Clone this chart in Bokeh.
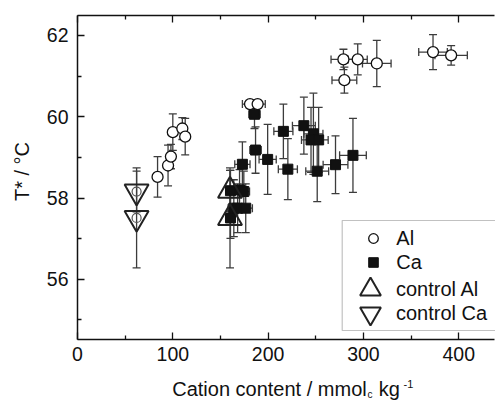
import math
from bokeh.plotting import figure
from bokeh.models import (ColumnDataSource, Whisker, TeeHead, FixedTicker, LinearAxis,
                          Range1d, Label, Legend, LegendItem, BoxAnnotation,
                          CustomJSTickFormatter)
from bokeh.embed import file_html
from bokeh.resources import INLINE

# ---------------- data ----------------
al_x = [84, 95, 98, 100, 110, 113, 181, 189, 279, 294, 314, 280, 373, 392]
al_y = [58.52, 58.80, 59.02, 59.62, 59.71, 59.51, 60.31, 60.31, 61.41, 61.41, 61.31, 60.90, 61.59, 61.51]
al_xerr = [0, 0, 0, 0, 0, 0, 8, 8, 13, 10, 15, 13, 15, 17]
al_yerr = [0.50, 0.50, 0.30, 0.45, 0.27, 0.45, 0.05, 0.05, 0.25, 0.38, 0.57, 0.32, 0.43, 0.24]

ca_x = [160.5, 160.5, 164, 168, 170, 174.5, 176.5, 173, 186.8, 185.7, 199.5, 216, 220.7,
        237.5, 247.5, 245, 253, 251.5, 270.7, 289]
ca_y = [57.51, 58.18, 57.75, 57.75, 58.20, 58.16, 57.75, 58.83, 59.18, 60.06, 58.95, 59.64,
        58.71, 59.78, 59.58, 59.43, 59.43, 58.66, 58.82, 59.05]
ca_xerr = [5, 5, 6, 6, 6, 6, 7, 8, 6, 6, 9, 10, 10, 12, 10, 10, 10, 12, 13, 14]
ca_yerr = [0.50, 0.50, 0.70, 0.60, 0.50, 0.50, 0.60, 0.55, 0.57, 0.35, 0.86, 0.67, 0.75,
           0.70, 1.00, 0.80, 0.80, 0.75, 0.71, 0.91]

ctrl_al_x = [160, 160]
ctrl_al_y = [58.18, 57.51]
ctrl_al_yerr = [0.50, 1.23]

ctrl_ca_x = [62, 62]
ctrl_ca_y = [58.16, 57.51]
ctrl_ca_yerr = [0.50, 1.23]

x_ticks = [0, 100, 200, 300, 400]
x_minor = [50, 150, 250, 350]
y_ticks = [56, 58, 60, 62]
y_minor = [55, 57, 59, 61]

X_LO, X_HI = 0, 437.5      # visible axis extent
Y_LO, Y_HI = 54.52, 62.49

FONT = "Liberation Sans"
ERR = "#3c3c3c"
INK = "#111111"

# ---------------- layout (canvas = frame, axes drawn at fixed locations) ----------------
W, H = 495, 400
FL, FR, FT, FB = 77, 494, 15, 339   # pixel box of the drawn axes
sx = (X_HI - X_LO) / (FR - FL)
sy = (Y_HI - Y_LO) / (FB - FT)
x_range = Range1d(X_LO - FL * sx, X_LO + (W - FL) * sx)
y_range = Range1d(Y_LO - (H - FB) * sy, Y_HI + FT * sy)

p = figure(width=W, height=H, x_range=x_range, y_range=y_range,
           output_backend="svg", toolbar_location=None,
           min_border_left=0, min_border_right=0, min_border_top=0, min_border_bottom=0)
p.outline_line_color = None
p.xgrid.visible = False
p.ygrid.visible = False
p.background_fill_color = "white"
p.border_fill_color = "white"


def style_axis(ax):
    ax.axis_line_color = INK
    ax.axis_line_width = 1.5
    ax.major_tick_line_color = INK
    ax.major_tick_line_width = 1.3
    ax.minor_tick_line_color = INK
    ax.minor_tick_line_width = 1.3
    ax.major_tick_in = 7
    ax.major_tick_out = 0
    ax.minor_tick_in = 4
    ax.minor_tick_out = 0
    ax.major_label_text_font = FONT
    ax.major_label_text_font_size = "19.5px"
    ax.major_label_text_color = INK


xa = p.xaxis[0]
ya = p.yaxis[0]
xa.ticker = FixedTicker(ticks=x_ticks, minor_ticks=x_minor)
ya.ticker = FixedTicker(ticks=y_ticks, minor_ticks=y_minor)
style_axis(xa)
style_axis(ya)
xa.fixed_location = Y_LO
xa.bounds = (X_LO, X_HI)
ya.fixed_location = X_LO
ya.bounds = (Y_LO, Y_HI)
xa.major_label_standoff = 7
ya.major_label_standoff = 9

top = LinearAxis(ticker=FixedTicker(ticks=x_ticks, minor_ticks=x_minor),
                 formatter=CustomJSTickFormatter(code="return ''"))
style_axis(top)
top.major_label_text_font_size = "1px"
top.major_label_standoff = 0
top.fixed_location = Y_HI
top.bounds = (X_LO, X_HI)
p.add_layout(top, "above")


# ---------------- error bars ----------------
def add_err(xs, ys, xe, ye):
    ysrc = ColumnDataSource(dict(x=xs,
                                 lower=[y - e for y, e in zip(ys, ye)],
                                 upper=[y + e for y, e in zip(ys, ye)]))
    p.add_layout(Whisker(source=ysrc, base="x", lower="lower", upper="upper",
                         dimension="height", level="underlay",
                         line_color=ERR, line_width=1.3,
                         upper_head=TeeHead(size=8, line_color=ERR, line_width=1.3),
                         lower_head=TeeHead(size=8, line_color=ERR, line_width=1.3)))
    if xe is not None:
        idx = [i for i, e in enumerate(xe) if e > 0]
        if idx:
            xsrc = ColumnDataSource(dict(y=[ys[i] for i in idx],
                                         lower=[xs[i] - xe[i] for i in idx],
                                         upper=[xs[i] + xe[i] for i in idx]))
            p.add_layout(Whisker(source=xsrc, base="y", lower="lower", upper="upper",
                                 dimension="width", level="underlay",
                                 line_color=ERR, line_width=1.3,
                                 upper_head=TeeHead(size=8, line_color=ERR, line_width=1.3),
                                 lower_head=TeeHead(size=8, line_color=ERR, line_width=1.3)))


add_err(ctrl_ca_x, ctrl_ca_y, None, ctrl_ca_yerr)
add_err(ctrl_al_x, ctrl_al_y, None, ctrl_al_yerr)
add_err(ca_x, ca_y, ca_xerr, ca_yerr)
add_err(al_x, al_y, al_xerr, al_yerr)

# ---------------- markers ----------------
r_ca = p.scatter(ca_x, ca_y, marker="square", size=10, fill_color=INK, line_color=INK,
                 line_width=1)
r_al = p.scatter(al_x, al_y, marker="circle", size=11, fill_color="white", line_color=INK,
                 line_width=1.3)
p.scatter(ctrl_ca_x, ctrl_ca_y, marker="circle", size=9, fill_color=None, line_color="#555555",
          line_width=1.2)
r_cal = p.scatter(ctrl_al_x, ctrl_al_y, marker="triangle", size=24, fill_color=None,
                  line_color="#222222", line_width=2)
r_cca = p.scatter(ctrl_ca_x, ctrl_ca_y, marker="inverted_triangle", size=24, fill_color=None,
                  line_color="#222222", line_width=2)

# ---------------- axis labels (screen units, origin bottom-left of canvas) ----------------
lab = dict(x_units="screen", y_units="screen", text_font=FONT, text_color=INK,
           text_align="left", text_baseline="alphabetic")
p.add_layout(Label(x=21.5, y=H - 171, text="T* / °C", angle=math.pi / 2,
                   x_units="screen", y_units="screen", text_font=FONT, text_color=INK,
                   text_align="center", text_baseline="middle", text_font_size="20px"))
p.add_layout(Label(x=171.7, y=H - 395 + 6.5, text="Cation content / mmol",
                   text_font_size="20px", **lab))
p.add_layout(Label(x=367, y=H - 397 + 3.5, text="c", text_font_size="10px", **lab))
p.add_layout(Label(x=378.3, y=H - 395 + 6.5, text="kg", text_font_size="20px", **lab))
p.add_layout(Label(x=403, y=H - 387 + 4, text="-1", text_font_size="11px", **lab))

# ---------------- legend ----------------
p.add_layout(BoxAnnotation(left=341.7, right=520, bottom=H - 330, top=H - 220,
                           left_units="screen", right_units="screen",
                           bottom_units="screen", top_units="screen",
                           fill_alpha=0, line_color="#333333", line_width=1.2))

leg_style = dict(padding=0, margin=0, spacing=0, border_line_color=None,
                 background_fill_alpha=0, label_text_font=FONT,
                 label_text_font_size="20px", label_text_color=INK)

legA = Legend(items=[LegendItem(label="Al", renderers=[r_al]),
                     LegendItem(label="Ca", renderers=[r_ca])],
              location=(361.3, H - 274.3), glyph_width=24, glyph_height=24, label_height=24,
              label_standoff=11, **leg_style)
p.add_layout(legA)

G = 52
legB1 = Legend(items=[LegendItem(label="control Al", renderers=[r_cal])],
               location=(396 - G, H - (289.3 + G / 2)), glyph_width=G, glyph_height=G,
               label_height=20, label_standoff=0, **leg_style)
p.add_layout(legB1)
legB2 = Legend(items=[LegendItem(label="control Ca", renderers=[r_cca])],
               location=(396 - G, H - (313.3 + G / 2)), glyph_width=G, glyph_height=G,
               label_height=20, label_standoff=0, **leg_style)
p.add_layout(legB2)

open("out.html", "w").write(file_html(p, INLINE))
